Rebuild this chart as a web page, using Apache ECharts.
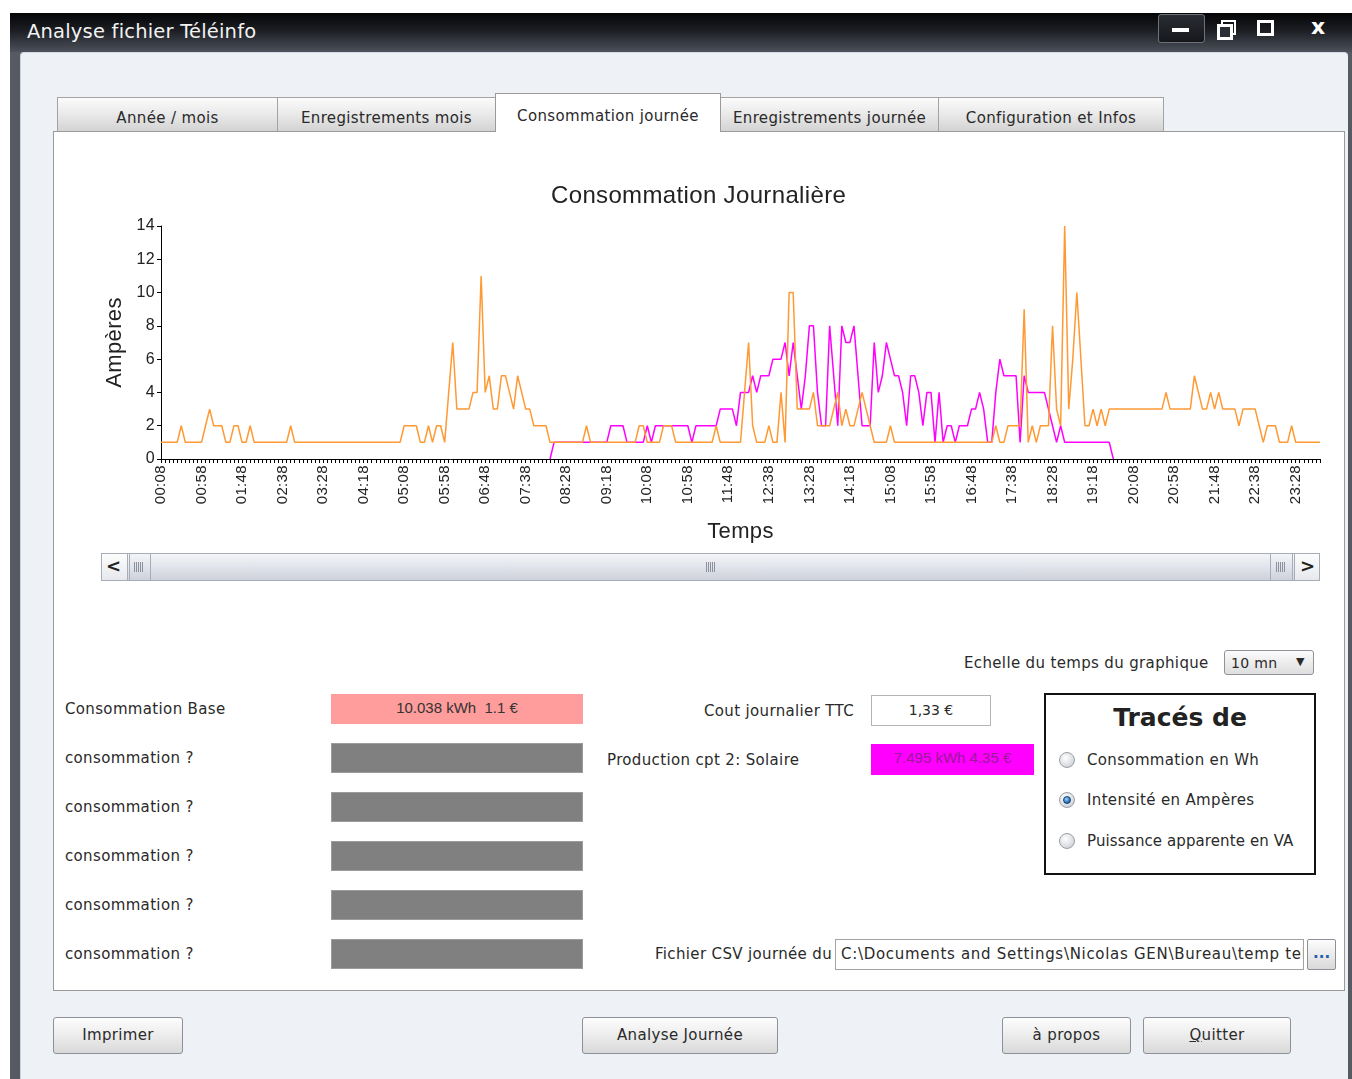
<!DOCTYPE html>
<html>
<head>
<meta charset="utf-8">
<title>Analyse fichier Téléinfo</title>
<script src="https://cdn.jsdelivr.net/npm/echarts@6/dist/echarts.min.js"></script>
<style>
  body { margin: 0; width: 1352px; height: 1079px; background: #fff; overflow: hidden; position: relative;
         font-family: "DejaVu Sans", sans-serif; font-size: 15px; color: #2a2a2a; letter-spacing: 0.35px; }
  .abs { position: absolute; }
  .txt { position: absolute; white-space: nowrap; line-height: 20px; }
  #frame { left: 10px; top: 13px; width: 1342px; height: 1066px; background: #555a63; }
  #titlebar { left: 10px; top: 13px; width: 1342px; height: 39px;
              background: linear-gradient(#050507 0%, #1c1e23 45%, #4c515b 100%); }
  #content { left: 20px; top: 52px; width: 1327px; height: 1027px; background: #eef2f7;
             border-top: 1px solid #d5dbe4; border-left: 1px solid #cbd2dc; border-radius: 4px 4px 0 0; }
  .tab { position: absolute; top: 97px; height: 34px; line-height: 40px; text-align: center;
         background: linear-gradient(#fbfbfb, #e7e7e7 55%, #d3d3d3); border: 1px solid #a3a3a3;
         border-bottom: none; box-sizing: border-box; font-size: 15px; color: #2a2a2a; }
  .tab.on { top: 93px; height: 39px; line-height: 44px; background: #fff; z-index: 3; border-color: #9a9a9a; }
  #panel { left: 53px; top: 131px; width: 1292px; height: 860px; background: #fff;
           border: 1px solid #9a9a9a; box-sizing: border-box; }
  .field { position: absolute; box-sizing: border-box; text-align: center; line-height: 28px; letter-spacing: 0;
           font-family: "Liberation Sans", Arial, sans-serif; font-size: 15px; }
  .gris { background: #808080; border: 1px solid #9c9c9c; }
  .btn { position: absolute; top: 1017px; height: 37px; box-sizing: border-box; border: 1px solid #8c9099;
         border-radius: 3px; background: linear-gradient(#fdfdfd, #ececec 50%, #d9d9d9);
         text-align: center; line-height: 35px; font-size: 15px; color: #2a2a2a; }
  .radio { position: absolute; width: 16px; height: 16px; border-radius: 50%; box-sizing: border-box;
           border: 1px solid #9aa0a8; background: radial-gradient(circle at 40% 35%, #fff, #d8dbdf 65%, #b5b9bf); }
  .radio.on::after { content: ''; position: absolute; left: 3px; top: 3px; width: 8px; height: 8px; border-radius: 50%;
           background: radial-gradient(circle at 40% 35%, #9fd4ff, #1a5fa8 75%); border: 1px solid #0d3f78; box-sizing: border-box; }
  .sb { position: absolute; top: 553px; height: 28px; box-sizing: border-box; border: 1px solid #a7adb8;
        background: linear-gradient(#f8f9fb, #e3e6ec 55%, #d2d6df); }
  .grip { position: absolute; top: 9px; height: 10px; width: 9px;
          background: repeating-linear-gradient(90deg, #8b919c 0 1px, transparent 1px 2px); }
  .wbtn { position: absolute; background: #fff; }
  #graph { position: absolute; left: 0; top: 0; width: 1352px; height: 600px; z-index: 5; pointer-events: none; }
</style>
</head>
<body>
<div id="frame" class="abs"></div>
<div id="titlebar" class="abs"></div>
<div class="txt" style="left:27px;top:22px;font-size:19.5px;color:#f2f2f2;letter-spacing:0.2px;">Analyse fichier Téléinfo</div>
<!-- boutons de la fenêtre -->
<div class="abs" style="left:1158px;top:14px;width:45px;height:27px;border:1px solid #6d717a;border-radius:3px;background:linear-gradient(#2a2d33,#15171b);"></div>
<div class="wbtn" style="left:1172px;top:28px;width:17px;height:4px;"></div>
<div class="abs" style="left:1221px;top:20px;width:11px;height:11px;border:2px solid #fff;"></div>
<div class="abs" style="left:1217px;top:24px;width:10px;height:10px;border:3px solid #fff;background:#2a2d33;"></div>
<div class="abs" style="left:1257px;top:20px;width:11px;height:10px;border:3px solid #fff;"></div>
<div class="txt" style="left:1311px;top:17px;font-size:22px;font-weight:bold;color:#fff;">x</div>

<div id="content" class="abs"></div>

<div class="tab" style="left:57px;width:221px;">Année / mois</div>
<div class="tab" style="left:277px;width:219px;">Enregistrements mois</div>
<div class="tab on" style="left:495px;width:226px;">Consommation journée</div>
<div class="tab" style="left:720px;width:219px;">Enregistrements journée</div>
<div class="tab" style="left:938px;width:226px;">Configuration et Infos</div>

<div id="panel" class="abs"></div>

<!-- barre de défilement sous le graphique -->
<div class="sb" style="left:101px;width:1219px;"></div>
<div class="sb" style="left:101px;width:27px;background:linear-gradient(#fdfdfd,#e6e8ec);"></div>
<div class="txt" style="left:106px;top:556px;font-size:18px;font-weight:bold;color:#222;">&lt;</div>
<div class="sb" style="left:129px;width:1164px;background:linear-gradient(#f4f5f8,#dfe2e9 55%,#cdd1db);"></div>
<div class="abs" style="left:150px;top:554px;width:1px;height:26px;background:#a7adb8;"></div>
<div class="abs" style="left:1270px;top:554px;width:1px;height:26px;background:#a7adb8;"></div>
<div class="grip" style="left:134px;top:562px;"></div>
<div class="grip" style="left:706px;top:562px;"></div>
<div class="grip" style="left:1276px;top:562px;"></div>
<div class="sb" style="left:1294px;width:26px;background:linear-gradient(#fdfdfd,#e6e8ec);"></div>
<div class="txt" style="left:1300px;top:556px;font-size:18px;font-weight:bold;color:#222;">&gt;</div>

<!-- partie basse -->
<div class="txt" style="left:964px;top:653px;">Echelle du temps du graphique</div>
<div class="abs" style="left:1224px;top:650px;width:90px;height:25px;box-sizing:border-box;border:1px solid #8e939c;border-radius:3px;background:linear-gradient(#fbfbfb,#dedede);"></div>
<div class="txt" style="left:1231px;top:653px;font-size:14px;">10 mn</div>
<div class="txt" style="left:1296px;top:652px;font-size:11px;">▼</div>

<div class="txt" style="left:65px;top:699px;">Consommation Base</div>
<div class="field" style="left:331px;top:694px;width:252px;height:30px;background:#ff9c9c;color:#333;">10.038 kWh&nbsp;&nbsp;1.1 €</div>
<div class="txt" style="left:65px;top:748px;">consommation ?</div>
<div class="field gris" style="left:331px;top:743px;width:252px;height:30px;"></div>
<div class="txt" style="left:65px;top:797px;">consommation ?</div>
<div class="field gris" style="left:331px;top:792px;width:252px;height:30px;"></div>
<div class="txt" style="left:65px;top:846px;">consommation ?</div>
<div class="field gris" style="left:331px;top:841px;width:252px;height:30px;"></div>
<div class="txt" style="left:65px;top:895px;">consommation ?</div>
<div class="field gris" style="left:331px;top:890px;width:252px;height:30px;"></div>
<div class="txt" style="left:65px;top:944px;">consommation ?</div>
<div class="field gris" style="left:331px;top:939px;width:252px;height:30px;"></div>

<div class="txt" style="right:498px;top:701px;">Cout journalier TTC</div>
<div class="field" style="left:871px;top:695px;width:120px;height:31px;border:1px solid #b4b4b4;background:#fff;color:#2a2a2a;font-family:'DejaVu Sans';font-size:14px;">1,33 €</div>
<div class="txt" style="left:607px;top:750px;">Production cpt 2: Solaire</div>
<div class="field" style="left:871px;top:744px;width:163px;height:31px;background:#ff00ff;color:#9a1a9a;">7.495 kWh 4.35 €</div>

<div class="abs" style="left:1044px;top:693px;width:272px;height:182px;box-sizing:border-box;border:2px solid #111;background:#fff;"></div>
<div class="txt" style="left:1044px;width:272px;top:703px;line-height:30px;text-align:center;font-size:25px;font-weight:bold;color:#222;letter-spacing:0;">Tracés de</div>
<div class="radio" style="left:1059px;top:752px;"></div>
<div class="txt" style="left:1087px;top:750px;">Consommation en Wh</div>
<div class="radio on" style="left:1059px;top:792px;"></div>
<div class="txt" style="left:1087px;top:790px;">Intensité en Ampères</div>
<div class="radio" style="left:1059px;top:833px;"></div>
<div class="txt" style="left:1087px;top:831px;letter-spacing:0.1px;">Puissance apparente en VA</div>

<div class="txt" style="right:520px;top:944px;">Fichier CSV journée du</div>
<div class="abs" style="left:835px;top:939px;width:469px;height:31px;box-sizing:border-box;border:1px solid #a3a3a3;background:#fff;overflow:hidden;">
  <div class="txt" style="left:5px;top:4px;font-size:15px;letter-spacing:0.7px;">C:\Documents and Settings\Nicolas GEN\Bureau\temp teleinfo\journee.csv</div>
</div>
<div class="abs" style="left:1307px;top:939px;width:29px;height:31px;box-sizing:border-box;border:1px solid #8c9099;border-radius:2px;background:linear-gradient(#fdfdfd,#d9d9d9);"></div>
<div class="txt" style="left:1313px;top:943px;font-weight:bold;color:#1f5fb0;letter-spacing:0;">...</div>

<div class="btn" style="left:53px;width:130px;">Imprimer</div>
<div class="btn" style="left:582px;width:196px;">Analyse Journée</div>
<div class="btn" style="left:1002px;width:129px;">à propos</div>
<div class="btn" style="left:1143px;width:148px;"><u>Q</u>uitter</div>

<div id="graph"></div>

<script>
// relevés toutes les 5 min, de 00:08 à 23:58
const heures = [];
for (let m = 8; m <= 23 * 60 + 58; m += 5) {
  heures.push(String(Math.floor(m / 60)).padStart(2, "0") + ":" + String(m % 60).padStart(2, "0"));
}

// intensité compteur 1 (base), en ampères
const consoBase = [
  1, 1, 1, 1, 1, 2, 1, 1, 1, 1,
  1, 2, 3, 2, 2, 2, 1, 1, 2, 2,
  1, 1, 2, 1, 1, 1, 1, 1, 1, 1,
  1, 1, 2, 1, 1, 1, 1, 1, 1, 1,
  1, 1, 1, 1, 1, 1, 1, 1, 1, 1,
  1, 1, 1, 1, 1, 1, 1, 1, 1, 1,
  2, 2, 2, 2, 1, 1, 2, 1, 2, 2,
  1, 4, 7, 3, 3, 3, 3, 4, 4, 11,
  4, 5, 3, 3, 5, 5, 4, 3, 5, 4,
  3, 3, 2, 2, 2, 2, 1, 1, 1, 1,
  1, 1, 1, 1, 1, 2, 1, 1, 1, 1,
  1, 1, 1, 1, 1, 1, 1, 1, 2, 2,
  1, 1, 1, 1, 2, 2, 2, 1, 1, 1,
  1, 1, 1, 1, 1, 1, 1, 2, 1, 1,
  1, 1, 1, 1, 4, 7, 2, 1, 1, 1,
  2, 1, 1, 4, 1, 10, 10, 3, 3, 3,
  3, 4, 2, 2, 2, 2, 3, 4, 2, 3,
  2, 2, 3, 4, 3, 2, 1, 1, 1, 1,
  2, 1, 1, 1, 1, 1, 1, 1, 1, 1,
  1, 1, 1, 1, 1, 1, 1, 1, 1, 1,
  1, 1, 1, 1, 1, 1, 2, 1, 1, 2,
  2, 2, 2, 9, 1, 2, 1, 2, 2, 2,
  8, 3, 2, 14, 3, 6, 10, 6, 2, 2,
  3, 2, 3, 2, 3, 3, 3, 3, 3, 3,
  3, 3, 3, 3, 3, 3, 3, 3, 4, 3,
  3, 3, 3, 3, 3, 5, 4, 3, 3, 4,
  3, 4, 3, 3, 3, 3, 2, 3, 3, 3,
  3, 2, 1, 2, 2, 2, 1, 1, 1, 2,
  1, 1, 1, 1, 1, 1, 1
];

// intensité compteur 2 (production solaire), en ampères
const prodSolaire = [
  null, null, null, null, null, null, null, null, null, null,
  null, null, null, null, null, null, null, null, null, null,
  null, null, null, null, null, null, null, null, null, null,
  null, null, null, null, null, null, null, null, null, null,
  null, null, null, null, null, null, null, null, null, null,
  null, null, null, null, null, null, null, null, null, null,
  null, null, null, null, null, null, null, null, null, null,
  null, null, null, null, null, null, null, null, null, null,
  null, null, null, null, null, null, null, null, null, null,
  null, null, null, null, null, null, 0, 1, 1, 1,
  1, 1, 1, 1, 1, 1, 1, 1, 1, 1,
  1, 2, 2, 2, 2, 1, 1, 1, 1, 1,
  2, 1, 2, 2, 2, 2, 2, 2, 2, 2,
  2, 1, 2, 2, 2, 2, 2, 2, 3, 3,
  3, 3, 2, 4, 4, 4, 5, 4, 5, 5,
  5, 6, 6, 6, 7, 5, 7, 5, 3, 5,
  8, 8, 4, 2, 2, 8, 5, 2, 8, 7,
  7, 8, 5, 2, 2, 2, 7, 4, 5, 7,
  6, 5, 5, 4, 2, 5, 5, 4, 2, 4,
  4, 1, 4, 1, 2, 2, 1, 2, 2, 2,
  3, 3, 4, 3, 1, 1, 4, 6, 5, 5,
  5, 5, 1, 5, 4, 4, 4, 4, 4, 3,
  2, 1, 2, 1, 1, 1, 1, 1, 1, 1,
  1, 1, 1, 1, 1, 0, null, null, null, null,
  null, null, null, null, null, null, null, null, null, null,
  null, null, null, null, null, null, null, null, null, null,
  null, null, null, null, null, null, null, null, null, null,
  null, null, null, null, null, null, null, null, null, null,
  null, null, null, null, null, null, null
];

const police = "Liberation Sans";
const graph = echarts.init(document.getElementById("graph"));
graph.setOption({
  animation: false,
  title: {
    text: "Consommation Journalière",
    left: 546,
    top: 179,
    textStyle: { fontFamily: police, fontSize: 24, fontWeight: "normal", color: "#222" }
  },
  grid: { left: 161, top: 226, width: 1159, height: 233 },
  xAxis: {
    type: "category",
    data: heures,
    boundaryGap: false,
    name: "Temps",
    nameLocation: "middle",
    nameGap: 62,
    nameTextStyle: { fontFamily: police, fontSize: 22, color: "#222" },
    axisLine: { lineStyle: { color: "#000", width: 1 } },
    axisTick: { interval: 0, length: 4, lineStyle: { color: "#000" } },
    axisLabel: { interval: 9, rotate: 90, fontFamily: police, fontSize: 15, color: "#222", margin: 6 },
    splitLine: { show: false }
  },
  yAxis: {
    type: "value",
    min: 0,
    max: 14,
    interval: 2,
    name: "Ampères",
    nameLocation: "middle",
    nameGap: 35,
    nameTextStyle: { fontFamily: police, fontSize: 22, color: "#222" },
    axisLine: { show: true, lineStyle: { color: "#000", width: 1 } },
    axisTick: { show: true, length: 4, lineStyle: { color: "#000" } },
    axisLabel: { fontFamily: police, fontSize: 16, color: "#222", margin: 6 },
    splitLine: { show: false }
  },
  series: [
    {
      name: "Production cpt 2: Solaire",
      type: "line",
      data: prodSolaire,
      showSymbol: false,
      connectNulls: false,
      lineStyle: { color: "#ff00ff", width: 1.5 },
      itemStyle: { color: "#ff00ff" }
    },
    {
      name: "Consommation Base",
      type: "line",
      data: consoBase,
      showSymbol: false,
      lineStyle: { color: "#ff9933", width: 1.5 },
      itemStyle: { color: "#ff9933" }
    }
  ]
});
</script>
</body>
</html>
